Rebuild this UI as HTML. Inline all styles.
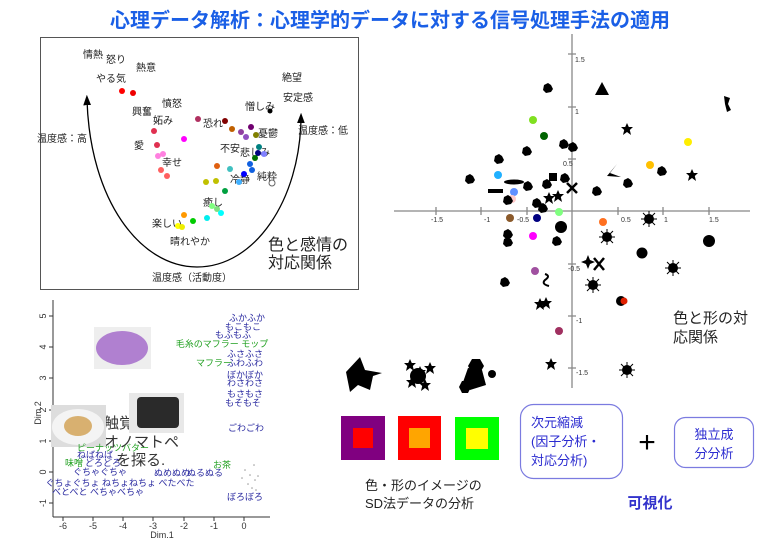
<!DOCTYPE html>
<html><head><meta charset="utf-8"><style>
html,body{margin:0;padding:0;background:#fff;width:780px;height:540px;overflow:hidden}
svg{display:block}
text{font-family:"Liberation Sans","Noto Sans CJK JP",sans-serif}
</style></head><body>
<svg width="780" height="540" viewBox="0 0 780 540" xmlns="http://www.w3.org/2000/svg">
<defs>
<marker id="ar" markerWidth="8" markerHeight="8" refX="4" refY="4" orient="auto-start-reverse"><path d="M0,1 L8,4 L0,7 Z" fill="#000"/></marker>
<g id="st"><polygon points="0,-6 1.8,-2 6,-2 2.8,1 4,6 0,3 -4,6 -2.8,1 -6,-2 -1.8,-2" fill="#000"/></g>
<g id="sp"><circle r="5" fill="#000"/><path d="M-8,0H8M0,-8V8M-6,-6L6,6M-6,6L6,-6" stroke="#000" stroke-width="1"/></g>
<g id="bl"><path d="M-4,-3 L0,-5 L3,-3 L5,1 L3,4 L-2,5 L-5,2 Z" fill="#000"/></g>
</defs>
<text x="390" y="27" text-anchor="middle" font-size="20" font-weight="bold" fill="#1a5fe6">心理データ解析：心理学的データに対する信号処理手法の適用</text>

<!-- top-left chart -->
<rect x="40.5" y="37.5" width="318" height="252" fill="#fff" stroke="#555" stroke-width="1"/>
<path d="M87,100 C90,200 140,267 197,267 C255,267 300,200 301,118" fill="none" stroke="#000" stroke-width="1.3" marker-start="url(#ar)" marker-end="url(#ar)"/>
<g font-size="10" fill="#222" text-anchor="middle">
<text x="93" y="58">情熱</text><text x="116" y="63">怒り</text><text x="146" y="71">熱意</text>
<text x="111" y="82">やる気</text><text x="172" y="107">憤怒</text><text x="142" y="115">興奮</text>
<text x="163" y="124">妬み</text><text x="139" y="149">愛</text><text x="172" y="166">幸せ</text>
<text x="213" y="127">恐れ</text><text x="260" y="110">憎しみ</text><text x="292" y="81">絶望</text>
<text x="298" y="101">安定感</text><text x="268" y="137">憂鬱</text><text x="230" y="152">不安</text>
<text x="255" y="156">悲しみ</text><text x="240" y="183">冷静</text><text x="267" y="180">純粋</text>
<text x="213" y="206">癒し</text><text x="167" y="227">楽しい</text><text x="190" y="245">晴れやか</text>
<text x="62" y="142">温度感：高</text><text x="323" y="134">温度感：低</text><text x="192" y="281">温度感（活動度）</text>
</g>
<text x="268" y="250" font-size="16" fill="#222">色と感情の</text>
<text x="268" y="268" font-size="16" fill="#222">対応関係</text>
<g>
<circle cx="122" cy="91" r="3" fill="#f00"/><circle cx="133" cy="93" r="3" fill="#e00"/>
<circle cx="198" cy="119" r="3" fill="#b03060"/><circle cx="225" cy="121" r="3" fill="#800000"/>
<circle cx="232" cy="129" r="3" fill="#c06000"/><circle cx="241" cy="132" r="3" fill="#9040a0"/>
<circle cx="251" cy="127" r="3" fill="#700070"/><circle cx="246" cy="137" r="3" fill="#9050c0"/>
<circle cx="256" cy="135" r="3" fill="#808000"/><circle cx="154" cy="131" r="3" fill="#e03050"/>
<circle cx="184" cy="139" r="3" fill="#f0f"/><circle cx="157" cy="145" r="3" fill="#e03050"/>
<circle cx="163" cy="154" r="3" fill="#ff80e0"/><circle cx="158" cy="156" r="3" fill="#ff80e0"/>
<circle cx="161" cy="170" r="3" fill="#ff6060"/><circle cx="167" cy="176" r="3" fill="#ff6060"/>
<circle cx="259" cy="147" r="3" fill="#008080"/><circle cx="258" cy="153" r="3" fill="#000080"/>
<circle cx="264" cy="154" r="3" fill="#8080ff"/><circle cx="255" cy="158" r="3" fill="#007000"/>
<circle cx="250" cy="164" r="3" fill="#1060e0"/><circle cx="252" cy="170" r="3" fill="#1060e0"/>
<circle cx="217" cy="166" r="3" fill="#e06010"/><circle cx="230" cy="169" r="3" fill="#40c0c0"/>
<circle cx="244" cy="174" r="3" fill="#00f"/><circle cx="239" cy="182" r="3" fill="#40b0ff"/>
<circle cx="216" cy="181" r="3" fill="#c0c000"/><circle cx="206" cy="182" r="3" fill="#c0c000"/>
<circle cx="225" cy="191" r="3" fill="#00a040"/><circle cx="270" cy="111" r="2.5" fill="#000"/>
<circle cx="272" cy="183" r="3" fill="#fff" stroke="#666"/>
<circle cx="212" cy="206" r="3" fill="#80ff80"/><circle cx="217" cy="209" r="3" fill="#80e080"/>
<circle cx="221" cy="213" r="3" fill="#0ff"/><circle cx="207" cy="218" r="3" fill="#0ee"/>
<circle cx="193" cy="221" r="3" fill="#0c0"/><circle cx="184" cy="215" r="3" fill="#f90"/>
<circle cx="178" cy="226" r="3" fill="#ff0"/><circle cx="182" cy="227" r="3" fill="#ee0"/>
</g>

<!-- right chart -->
<g stroke="#888" stroke-width="1.3">
<line x1="394" y1="211" x2="750" y2="211"/><line x1="572" y1="34" x2="572" y2="388"/>
<path d="M436,207V215M481,207V215M527,207V215M618,207V215M663,207V215M709,207V215M568,54H576M568,107H576M568,159H576M568,264H576M568,316H576M568,368H576"/>
</g>
<g font-size="7" fill="#333" font-family="Liberation Serif,serif">
<text x="431" y="222">-1.5</text><text x="484" y="222">-1</text><text x="517" y="222">-0.5</text>
<text x="621" y="222">0.5</text><text x="664" y="222">1</text><text x="709" y="222">1.5</text>
<text x="575" y="62">1.5</text><text x="575" y="114">1</text><text x="563" y="166">0.5</text>
<text x="568" y="271">-0.5</text><text x="576" y="323">-1</text><text x="576" y="375">-1.5</text>
</g>
<g>
<circle cx="533" cy="120" r="4" fill="#80e020"/><circle cx="544" cy="136" r="4" fill="#006400"/>
<circle cx="498" cy="175" r="4" fill="#20b0ff"/><circle cx="514" cy="192" r="4" fill="#6090ff"/>
<circle cx="512" cy="199" r="4" fill="#ffc8c8"/><circle cx="510" cy="218" r="4" fill="#8b5a2b"/>
<circle cx="537" cy="218" r="4" fill="#000080"/><circle cx="559" cy="212" r="4" fill="#80ff80"/>
<circle cx="603" cy="222" r="4" fill="#ff7020"/><circle cx="533" cy="236" r="4" fill="#f0f"/>
<circle cx="535" cy="271" r="4" fill="#a050a0"/><circle cx="559" cy="331" r="4" fill="#a03060"/>
<circle cx="650" cy="165" r="4" fill="#ffc000"/><circle cx="688" cy="142" r="4" fill="#ffee00"/>
<circle cx="621" cy="301" r="5" fill="#000"/><circle cx="624" cy="301" r="3.5" fill="#e02000"/>
</g>
<g>
<use href="#bl" x="548" y="88"/><polygon points="602,82 609,95 595,95" fill="#000"/>
<path d="M724,96 L730,98 L728,104 L731,110 L727,112 L725,104 Z" fill="#000"/>
<use href="#st" x="627" y="129"/><use href="#bl" x="564" y="144"/><use href="#bl" x="573" y="147"/>
<use href="#bl" x="527" y="151"/><use href="#bl" x="499" y="159"/><use href="#bl" x="470" y="179"/>
<ellipse cx="514" cy="182" rx="10" ry="2.5" fill="#000"/><rect x="488" y="189" width="15" height="4" fill="#000"/>
<use href="#bl" x="528" y="186"/><rect x="549" y="173" width="8" height="8" fill="#000"/>
<use href="#bl" x="547" y="184"/><use href="#bl" x="565" y="178"/>
<path d="M567,183L577,193M577,183L567,193" stroke="#000" stroke-width="2.5"/>
<path d="M617,164 L607,176 L621,177 L610,173 Z" fill="#000"/>
<use href="#bl" x="628" y="183"/><use href="#bl" x="597" y="191"/><use href="#bl" x="662" y="171"/>
<use href="#st" x="692" y="175"/><use href="#bl" x="508" y="200"/><use href="#bl" x="537" y="203"/>
<use href="#bl" x="543" y="208"/><use href="#st" x="549" y="198"/><use href="#st" x="558" y="196"/>
<circle cx="561" cy="227" r="6" fill="#000"/><use href="#sp" x="649" y="219"/><use href="#sp" x="607" y="237"/>
<circle cx="709" cy="241" r="6" fill="#000"/><use href="#bl" x="508" y="234"/><use href="#bl" x="508" y="242"/>
<use href="#bl" x="557" y="241"/><circle cx="642" cy="253" r="5.5" fill="#000"/><use href="#sp" x="673" y="268"/>
<polygon points="588,255 590,260 595,262 590,264 588,269 586,264 581,262 586,260" fill="#000"/>
<path d="M594,258L604,270M604,258L594,270" stroke="#000" stroke-width="2.5"/>
<use href="#sp" x="593" y="285"/><use href="#bl" x="505" y="282"/>
<path d="M545,274 q6,2 0,6 q-4,4 4,6" stroke="#000" stroke-width="2" fill="none"/>
<use href="#st" x="540" y="304"/><use href="#st" x="546" y="303"/>
<use href="#st" x="551" y="364"/><use href="#sp" x="627" y="370"/>
</g>
<text x="673" y="323" font-size="15" fill="#222">色と形の対</text>
<text x="673" y="342" font-size="15" fill="#222">応関係</text>

<!-- bottom-left chart -->
<g stroke="#333" stroke-width="1">
<line x1="53" y1="300" x2="53" y2="517"/><line x1="53" y1="517" x2="270" y2="517"/>
<path d="M49,316H53M49,347H53M49,378H53M49,410H53M49,441H53M49,472H53M49,503H53M63,517V521M93,517V521M123,517V521M153,517V521M184,517V521M214,517V521M244,517V521"/>
</g>
<g font-size="9" fill="#333" text-anchor="middle">
<text x="63" y="529">-6</text><text x="93" y="529">-5</text><text x="123" y="529">-4</text><text x="153" y="529">-3</text>
<text x="184" y="529">-2</text><text x="214" y="529">-1</text><text x="244" y="529">0</text>
<text x="162" y="538">Dim.1</text>
<g transform="rotate(-90)"><text x="-316" y="46">5</text><text x="-347" y="46">4</text><text x="-378" y="46">3</text><text x="-410" y="46">2</text><text x="-441" y="46">1</text><text x="-472" y="46">0</text><text x="-503" y="46">-1</text><text x="-413" y="41">Dim.2</text></g>
</g>
<g font-size="15" fill="#333"><text x="104" y="428">触覚ミ</text><text x="104" y="447">オノマトペ</text><text x="116" y="465">を探る.</text></g>
<rect x="94" y="327" width="57" height="42" fill="#eee"/><ellipse cx="122" cy="348" rx="26" ry="17" fill="#b080d0"/>
<rect x="129" y="393" width="55" height="40" fill="#e8e8e8"/><rect x="137" y="397" width="42" height="31" rx="4" fill="#2a2a2a"/>
<rect x="51" y="405" width="55" height="42" fill="#ddd"/><ellipse cx="78" cy="427" rx="26" ry="18" fill="#f4f4f4"/><ellipse cx="78" cy="426" rx="14" ry="10" fill="#d8b070"/>
<g font-size="9" fill="#2a2aa0" text-anchor="middle">
<text x="247" y="321">ふかふか</text><text x="243" y="330">もこもこ</text><text x="233" y="338">もふもふ</text>
<text x="245" y="357">ふさふさ</text><text x="245" y="366">ふわふわ</text><text x="245" y="378">ぼかぼか</text>
<text x="245" y="386">わさわさ</text><text x="245" y="397">もさもさ</text><text x="243" y="406">もそもそ</text>
<text x="246" y="431">ごわごわ</text><text x="95" y="458">ねばねば</text><text x="103" y="466">どろどろ</text>
<text x="100" y="475">ぐちゃぐちゃ</text><text x="172" y="476">ぬめぬめ</text><text x="205" y="476">ぬるぬる</text>
<text x="120" y="486">ぐちょぐちょ ねちょねちょ べたべた</text><text x="98" y="495">べとべと べちゃべちゃ</text>
<text x="245" y="500">ぼろぼろ</text>
</g>
<g font-size="9" fill="#20a020" text-anchor="middle">
<text x="222" y="347">毛糸のマフラー モップ</text><text x="214" y="366">マフラー</text>
<text x="113" y="451">ピーナッツバター</text><text x="74" y="466">味噌</text><text x="222" y="468">お茶</text>
</g>
<g fill="#999"><circle cx="245" cy="470" r=".8"/><circle cx="250" cy="475" r=".8"/><circle cx="255" cy="480" r=".8"/><circle cx="248" cy="484" r=".8"/><circle cx="252" cy="488" r=".8"/><circle cx="258" cy="476" r=".8"/><circle cx="242" cy="478" r=".8"/><circle cx="254" cy="465" r=".8"/><circle cx="256" cy="490" r=".8"/></g>

<!-- bottom middle -->
<path d="M346,372 L360,357 L365,370 L382,373 L373,376 L370,390 L358,385 L350,392 Z" fill="#000"/>
<g><use href="#st" x="410" y="365"/><use href="#st" x="420" y="372"/><use href="#st" x="412" y="382"/><use href="#st" x="425" y="385"/><use href="#st" x="430" y="368"/><circle cx="418" cy="376" r="8" fill="#000"/></g>
<g fill="#000"><polygon points="472,359 480,359 484,366 480,373 472,373 468,366"/><polygon points="468,368 482,370 486,385 470,390 462,385"/><polygon points="462,381 468,381 471,387 468,393 462,393 459,387"/><circle cx="492" cy="374" r="4"/></g>
<rect x="341" y="416" width="44" height="44" fill="#800080"/><rect x="353" y="428" width="20" height="20" fill="#f00"/>
<rect x="398" y="416" width="43" height="44" fill="#f00"/><rect x="409" y="428" width="21" height="20" fill="#ffa500"/>
<rect x="455" y="417" width="44" height="43" fill="#0f0"/><rect x="466" y="428" width="22" height="21" fill="#ff0"/>
<text x="365" y="490" font-size="13" fill="#222">色・形のイメージの</text>
<text x="365" y="508" font-size="13" fill="#222">SD法データの分析</text>
<rect x="520.5" y="404.5" width="102" height="74" rx="13" fill="#fff" stroke="#7b7be0" stroke-width="1.2"/>
<g font-size="13" fill="#2b2bd0"><text x="531" y="427">次元縮減</text><text x="531" y="446">(因子分析・</text><text x="531" y="465">対応分析)</text></g>
<text x="647" y="452" font-size="30" text-anchor="middle" fill="#000">+</text>
<rect x="674.5" y="417.5" width="79" height="50" rx="11" fill="#fff" stroke="#7b7be0" stroke-width="1.2"/>
<g font-size="13" fill="#2b2bd0" text-anchor="middle"><text x="714" y="439">独立成</text><text x="714" y="458">分分析</text></g>
<text x="650" y="508" font-size="15" font-weight="bold" fill="#3333cc" text-anchor="middle">可視化</text>
</svg>
</body></html>
